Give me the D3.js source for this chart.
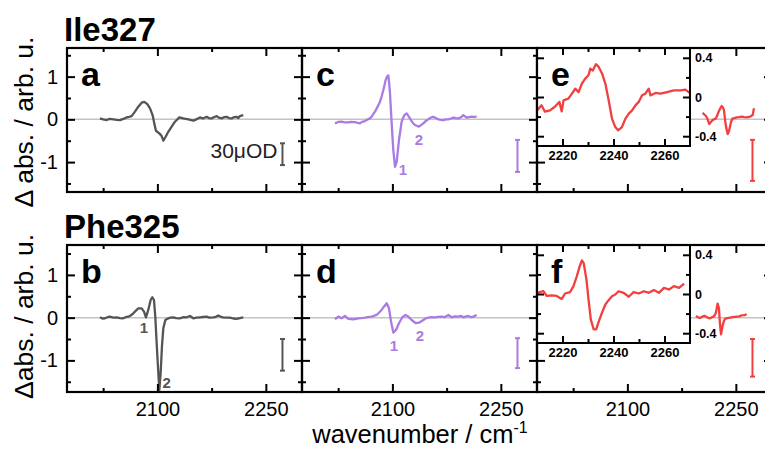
<!DOCTYPE html>
<html><head><meta charset="utf-8">
<script src="https://cdn.jsdelivr.net/npm/d3@7"></script>
<style>
body{margin:0;background:#fff}
svg{display:block}
text{font-family:"Liberation Sans",Arial,Helvetica,sans-serif}
</style>
</head><body>
<svg id="chart" width="765" height="452"></svg>
<script>
// ---------------- data ----------------
const xDomain = [1975, 2300];
const xMajorTicks = [2100, 2250];
const xMinorTicks = [2025, 2175];
const yMajorTicks = [-1, 0, 1];
const yMinorTicks = [-1.5, -0.5, 0.5, 1.5];
const insetXDomain = [2210, 2270];
const insetYDomain = [-0.5, 0.5];
const insetXMajor = [2220, 2240, 2260];
const insetXMinor = [2230, 2250];
const insetYMajor = [-0.4, 0, 0.4];
const insetYMinor = [-0.2, 0.2];
const rowTitles = ["Ile327", "Phe325"];
const rowYLabels = ["\u0394 abs. / arb. u.", "\u0394abs. / arb. u."];
const panelLetters = ["a", "c", "e", "b", "d", "f"];
const scaleBarWn = 2273;
const scaleBarTop = [-0.56, -0.48, -0.48, -0.50, -0.48, -0.50];
const scaleBarBottom = [-1.07, -1.23, -1.44, -1.24, -1.18, -1.38];
const scaleBarText = "30\u03bcOD";

const seriesA = [[2020.6,0.023],[2025,0.0],[2029.8,-0.016],[2034,0.01],[2039,0],[2043.5,-0.01],[2048.3,-0.016],[2053,0.01],[2057.5,0.046],[2061,0.06],[2064.4,0.077],[2069,0.18],[2073.6,0.296],[2078.2,0.39],[2081.9,0.41],[2086.1,0.358],[2089.8,0.257],[2093.4,0.1],[2095.7,-0.094],[2098,-0.266],[2102.7,-0.328],[2105.9,-0.39],[2108.2,-0.5],[2111.4,-0.406],[2115.1,-0.29],[2119.7,-0.17],[2124.3,-0.055],[2130.3,0.046],[2135.9,0.023],[2142.8,0],[2149.7,-0.03],[2154,0.0],[2158.9,0.046],[2163,0.02],[2168.1,0.06],[2171,0.03],[2175,0.023],[2178,0.05],[2182,0.077],[2185,0.04],[2188.9,0.023],[2192,0.05],[2195.8,0.06],[2199,0.03],[2202.7,0.023],[2206,0.05],[2209.6,0.06],[2212,0.03],[2214.2,0.077],[2218.8,0.1]];
const seriesB = [[2020.6,0.008],[2024,-0.02],[2027.5,-0.015],[2031,0.01],[2034.4,0.023],[2039,0.0],[2043.7,0.008],[2048,-0.01],[2052.9,-0.015],[2056,0.01],[2059.8,0.023],[2063,0.05],[2066.7,0.1],[2070,0.16],[2073.6,0.218],[2078.2,0.218],[2081.5,0.14],[2084.2,0.008],[2087.4,0.18],[2090.7,0.413],[2093,0.476],[2095.3,0.413],[2097.1,0.023],[2099,-0.6],[2100.8,-1.15],[2102.7,-1.69],[2104.5,-1.3],[2106.3,-0.68],[2108.2,-0.25],[2111,-0.056],[2115.1,-0.015],[2118,0],[2122,0.008],[2126,-0.01],[2131.2,-0.015],[2136,0.01],[2140.5,0.008],[2145,0.04],[2149.7,-0.015],[2154,0.0],[2158.9,0.008],[2163,0.015],[2168,0.023],[2172,0.0],[2177.3,0.008],[2181,0.02],[2184.2,0.05],[2188,0.02],[2191,0.008],[2195,0.0],[2200.4,0],[2205,-0.02],[2209.6,-0.03],[2214,-0.01],[2218.8,0.008]];
const seriesC = [[2020.6,-0.094],[2025,-0.06],[2029.8,-0.055],[2034,-0.07],[2039,-0.07],[2043,-0.06],[2048.3,-0.063],[2052,-0.08],[2055.2,-0.094],[2058,-0.06],[2062.1,-0.039],[2065,-0.01],[2069,0.023],[2072,0.08],[2075.9,0.18],[2079,0.28],[2082.9,0.414],[2085,0.53],[2087.5,0.687],[2090.7,0.92],[2092.5,1.0],[2094.4,1.03],[2095.5,0.85],[2096.7,0.61],[2099,-0.094],[2101.3,-0.72],[2103.6,-1.11],[2105.9,-1.0],[2109.1,-0.484],[2112.8,-0.055],[2116.5,0.1],[2119.7,0.14],[2124.3,0.023],[2128,-0.08],[2131.2,-0.133],[2136.8,-0.172],[2142.8,-0.094],[2146,-0.04],[2149.7,0],[2153,0.04],[2156.6,0.062],[2160,0.03],[2163.5,0],[2167,-0.01],[2170.5,-0.016],[2174,0.0],[2177.4,0],[2181,0.02],[2184.3,0.04],[2188,0.03],[2191.2,0.023],[2195,0.05],[2198.1,0.1],[2202.7,0.04],[2206,0.05],[2209.6,0.062],[2213,0.06],[2216.5,0.062]];
const seriesD = [[2020.6,-0.038],[2025.2,0.024],[2029.8,-0.015],[2034.4,0.04],[2039,-0.03],[2046,-0.038],[2052.9,-0.015],[2057,-0.01],[2062.1,0],[2066,0.01],[2071.3,0.024],[2078.2,0.063],[2085.1,0.18],[2088,0.25],[2092.1,0.336],[2095.3,0.22],[2098.1,-0.09],[2101.3,-0.35],[2105,-0.29],[2109.1,-0.13],[2113.7,0.008],[2118.3,0.063],[2122,0.024],[2126.6,-0.055],[2132.2,-0.13],[2136.8,-0.117],[2142.8,-0.055],[2146,-0.02],[2149.7,0],[2154,0.01],[2158.9,0.008],[2163,0.02],[2168.1,0.024],[2172,0.01],[2177.4,0.063],[2181.9,0.008],[2186,0.03],[2191.2,0.024],[2195,0.04],[2198.1,0.008],[2202,0.03],[2205,0.04],[2209,0.01],[2212,0.024],[2216.5,0.063]];
const seriesE = [[2204.1,0.156],[2206,0.12],[2208.7,0.078],[2211,0.0],[2213.3,-0.11],[2215.5,-0.06],[2217.9,-0.016],[2220,0.0],[2222.5,0.023],[2224.5,0.1],[2226.2,0.18],[2228.5,0.26],[2230.4,0.312],[2232,0.28],[2233.6,0.218],[2235,0.0],[2236.4,-0.17],[2238.7,-0.343],[2240.5,-0.28],[2241.9,-0.17],[2243.5,-0.05],[2245.6,0.023],[2248,0.03],[2251.2,0.047],[2254.5,0.05],[2258.1,0.062],[2261.5,0.05],[2265,0.047],[2269.6,0.062],[2273.3,0.1],[2275.1,0.258]];
const seriesF = [[2194.9,0.04],[2197.5,0.01],[2200.4,-0.008],[2204,0.03],[2207.3,0.04],[2211,0.0],[2214.2,-0.015],[2217,0.01],[2218.9,0.024],[2221,0.06],[2222.5,0.117],[2224.8,0.33],[2226.7,0.21],[2228,-0.14],[2229.5,-0.39],[2231.8,-0.18],[2233.5,-0.08],[2235,-0.03],[2238,-0.01],[2241.9,0],[2246,0.01],[2251.1,0.024],[2255,0.03],[2258,0.055],[2262,0.06],[2265,0.08]];
const insetE = [[2210.1,-0.136],[2211.8,-0.085],[2213.1,-0.15],[2215.1,-0.136],[2217,-0.10],[2218.8,-0.05],[2219.7,-0.147],[2220.4,-0.034],[2222.3,-0.017],[2223.7,0.034],[2225,0.085],[2226.3,0.05],[2227.6,0.137],[2228.9,0.188],[2230.2,0.222],[2230.9,0.29],[2231.9,0.27],[2233.1,0.335],[2234.2,0.307],[2235.5,0.24],[2236.8,0.137],[2238.1,-0.034],[2239.4,-0.22],[2240.7,-0.307],[2241.8,-0.34],[2243.3,-0.307],[2244.7,-0.22],[2246,-0.17],[2247.3,-0.136],[2248.6,-0.085],[2249.9,-0.05],[2251.2,0.017],[2252.5,0.034],[2253.8,0.085],[2254.5,0.017],[2256.5,0.041],[2258.4,0.034],[2261,0.05],[2263.7,0.068],[2266.3,0.068],[2268.2,0.075],[2270,0.04]];
const insetF = [[2210.1,0.012],[2212.5,0.03],[2213.8,-0.02],[2215.8,-0.015],[2217.7,-0.02],[2219.7,-0.05],[2221,0.005],[2223,0.02],[2224.3,0.08],[2225.6,0.18],[2226.7,0.28],[2227.6,0.343],[2228.3,0.316],[2229.4,0.147],[2230.2,-0.055],[2231.1,-0.259],[2232.2,-0.36],[2233.2,-0.36],[2234.1,-0.29],[2235.5,-0.19],[2236.8,-0.107],[2238.1,-0.063],[2239.4,-0.022],[2240.7,-0.005],[2242,0.028],[2244,0.012],[2246,-0.028],[2247.9,0.02],[2249.9,0.005],[2251.9,0.028],[2253.9,0.012],[2255.8,0.04],[2257.8,0.012],[2259.8,0.063],[2261.8,0.046],[2263.7,0.08],[2265.7,0.063],[2267.7,0.107]];
// peak annotations [panel, label, wavenumber, value]
const peakLabels = [["b","1",2081.5,-0.35],["b","2",2112.9,-1.64],["c","1",2114.7,-1.30],["c","2",2136.8,-0.61],["d","1",2102.2,-0.77],["d","2",2138.2,-0.54]];

// ---------------- layout ----------------
const colors = {gray:"#555555", purple:"#a97be3", red:"#f23f3f"};
const panelSeries = {a:seriesA, b:seriesB, c:seriesC, d:seriesD, e:seriesE, f:seriesF};
const panelColor = {a:colors.gray, b:colors.gray, c:colors.purple, d:colors.purple, e:colors.red, f:colors.red};
const insetSeries = {e:insetE, f:insetF};
const colLeft = [67, 302, 537];
const PW = 235;
const rows = [{top:48, bottom:192, yDomain:[-1.70,1.67]}, {top:245, bottom:392, yDomain:[-1.74,1.70]}];
const insetRight = 690, insetH = 98;

const svg = d3.select("#chart");
const fmt = d => d === 0 ? "0" : (Number.isInteger(d) ? String(d) : d.toFixed(1)).replace("\u2212","-");

function styleAxis(g){
  g.select(".domain").remove();
  g.selectAll(".tick line").attr("stroke","#000").attr("stroke-width",2);
}

panelLetters.forEach((L, i) => {
  const col = i % 3, row = Math.floor(i / 3);
  const R = rows[row];
  const left = colLeft[col];
  const x = d3.scaleLinear().domain(xDomain).range([left, left + PW]);
  const y = d3.scaleLinear().domain(R.yDomain).range([R.bottom, R.top]);
  const g = svg.append("g");
  const clipId = "clip" + L;
  svg.append("clipPath").attr("id", clipId).append("rect")
    .attr("x", left).attr("y", R.top).attr("width", PW).attr("height", R.bottom - R.top);

  // zero line
  g.append("line").attr("x1", x(xDomain[0])).attr("x2", x(xDomain[1]))
    .attr("y1", y(0)).attr("y2", y(0)).attr("stroke", "#c4c4c4").attr("stroke-width", 1.5);

  // data
  g.append("path").datum(panelSeries[L]).attr("clip-path", `url(#${clipId})`)
    .attr("fill","none").attr("stroke", panelColor[L]).attr("stroke-width", 2.3)
    .attr("stroke-linejoin","round")
    .attr("d", d3.line().x(d => x(d[0])).y(d => y(d[1])));

  // ticks (inward, all four sides)
  const bottomLabels = row === 1;
  g.append("g").attr("transform", `translate(0,${R.bottom})`)
    .call(d3.axisBottom(x).tickValues(xMajorTicks).tickSizeInner(-8).tickSizeOuter(0).tickPadding(10)
      .tickFormat(bottomLabels ? d3.format("d") : () => ""))
    .call(styleAxis)
    .call(a => a.selectAll("text").attr("font-size", 20).attr("fill","#000").attr("font-family", null));
  g.append("g").attr("transform", `translate(0,${R.bottom})`)
    .call(d3.axisBottom(x).tickValues(xMinorTicks).tickSizeInner(-4).tickSizeOuter(0).tickFormat(() => ""))
    .call(styleAxis);
  g.append("g").attr("transform", `translate(0,${R.top})`)
    .call(d3.axisTop(x).tickValues(xMajorTicks).tickSizeInner(-8).tickSizeOuter(0).tickFormat(() => ""))
    .call(styleAxis);
  g.append("g").attr("transform", `translate(0,${R.top})`)
    .call(d3.axisTop(x).tickValues(xMinorTicks).tickSizeInner(-4).tickSizeOuter(0).tickFormat(() => ""))
    .call(styleAxis);
  g.append("g").attr("transform", `translate(${left},0)`)
    .call(d3.axisLeft(y).tickValues(yMajorTicks).tickSizeInner(-8).tickSizeOuter(0).tickPadding(9)
      .tickFormat(col === 0 ? fmt : () => ""))
    .call(styleAxis)
    .call(a => a.selectAll("text").attr("font-size", 20).attr("fill","#000").attr("font-family", null));
  g.append("g").attr("transform", `translate(${left},0)`)
    .call(d3.axisLeft(y).tickValues(yMinorTicks).tickSizeInner(-4).tickSizeOuter(0).tickFormat(() => ""))
    .call(styleAxis);
  g.append("g").attr("transform", `translate(${left + PW},0)`)
    .call(d3.axisRight(y).tickValues(yMajorTicks).tickSizeInner(-8).tickSizeOuter(0).tickFormat(() => ""))
    .call(styleAxis);
  g.append("g").attr("transform", `translate(${left + PW},0)`)
    .call(d3.axisRight(y).tickValues(yMinorTicks).tickSizeInner(-4).tickSizeOuter(0).tickFormat(() => ""))
    .call(styleAxis);

  // scale bar
  const sb = g.append("g").attr("stroke", panelColor[L]).attr("stroke-width", 2);
  const bx = x(scaleBarWn);
  sb.append("line").attr("x1", bx).attr("x2", bx).attr("y1", y(scaleBarTop[i])).attr("y2", y(scaleBarBottom[i]));
  sb.append("line").attr("x1", bx - 2.5).attr("x2", bx + 2.5).attr("y1", y(scaleBarTop[i])).attr("y2", y(scaleBarTop[i]));
  sb.append("line").attr("x1", bx - 2.5).attr("x2", bx + 2.5).attr("y1", y(scaleBarBottom[i])).attr("y2", y(scaleBarBottom[i]));
  if (L === "a") {
    g.append("text").attr("x", bx - 5).attr("y", y(scaleBarTop[i]) + 15)
      .attr("text-anchor","end").attr("font-size", 21).attr("fill","#222").text(scaleBarText);
  }

  // peak labels
  peakLabels.filter(p => p[0] === L).forEach(p => {
    g.append("text").attr("x", x(p[2])).attr("y", y(p[3])).attr("text-anchor","middle")
      .attr("font-size", 15).attr("font-weight","bold").attr("fill", panelColor[L]).text(p[1]);
  });

  // inset
  if (insetSeries[L]) {
    const ix = d3.scaleLinear().domain(insetXDomain).range([left, insetRight]);
    const iy = d3.scaleLinear().domain(insetYDomain).range([R.top + insetH, R.top]);
    const ig = svg.append("g");
    const icid = "iclip" + L;
    svg.append("clipPath").attr("id", icid).append("rect")
      .attr("x", left).attr("y", R.top).attr("width", insetRight - left).attr("height", insetH);
    ig.append("rect").attr("x", left).attr("y", R.top).attr("width", insetRight - left).attr("height", insetH)
      .attr("fill", "#fff");
    ig.append("path").datum(insetSeries[L]).attr("clip-path", `url(#${icid})`)
      .attr("fill","none").attr("stroke", panelColor[L]).attr("stroke-width", 2.3)
      .attr("stroke-linejoin","round")
      .attr("d", d3.line().x(d => ix(d[0])).y(d => iy(d[1])));
    const ib = R.top + insetH;
    ig.append("g").attr("transform", `translate(0,${ib})`)
      .call(d3.axisBottom(ix).tickValues(insetXMajor).tickSizeInner(-7).tickSizeOuter(0).tickPadding(5).tickFormat(d3.format("d")))
      .call(styleAxis)
      .call(a => a.selectAll("text").attr("font-size", 13).attr("font-weight","bold").attr("fill","#000").attr("font-family", null));
    ig.append("g").attr("transform", `translate(0,${ib})`)
      .call(d3.axisBottom(ix).tickValues(insetXMinor).tickSizeInner(-4).tickSizeOuter(0).tickFormat(() => ""))
      .call(styleAxis);
    ig.append("g").attr("transform", `translate(0,${R.top})`)
      .call(d3.axisTop(ix).tickValues(insetXMajor).tickSizeInner(-7).tickSizeOuter(0).tickFormat(() => ""))
      .call(styleAxis);
    ig.append("g").attr("transform", `translate(0,${R.top})`)
      .call(d3.axisTop(ix).tickValues(insetXMinor).tickSizeInner(-4).tickSizeOuter(0).tickFormat(() => ""))
      .call(styleAxis);
    ig.append("g").attr("transform", `translate(${insetRight},0)`)
      .call(d3.axisRight(iy).tickValues(insetYMajor).tickSizeInner(-7).tickSizeOuter(0).tickPadding(5).tickFormat(fmt))
      .call(styleAxis)
      .call(a => a.selectAll("text").attr("font-size", 12.5).attr("font-weight","bold").attr("fill","#000").attr("font-family", null));
    ig.append("g").attr("transform", `translate(${insetRight},0)`)
      .call(d3.axisRight(iy).tickValues(insetYMinor).tickSizeInner(-4).tickSizeOuter(0).tickFormat(() => ""))
      .call(styleAxis);
    ig.append("g").attr("transform", `translate(${left},0)`)
      .call(d3.axisLeft(iy).tickValues(insetYMajor).tickSizeInner(-7).tickSizeOuter(0).tickFormat(() => ""))
      .call(styleAxis);
    ig.append("g").attr("transform", `translate(${left},0)`)
      .call(d3.axisLeft(iy).tickValues(insetYMinor).tickSizeInner(-4).tickSizeOuter(0).tickFormat(() => ""))
      .call(styleAxis);
    ig.append("rect").attr("x", left).attr("y", R.top).attr("width", insetRight - left).attr("height", insetH)
      .attr("fill","none").attr("stroke","#000").attr("stroke-width", 2);
  }

  // frame
  svg.append("rect").attr("x", left).attr("y", R.top).attr("width", PW).attr("height", R.bottom - R.top)
    .attr("fill","none").attr("stroke","#000").attr("stroke-width", 2.2);

  // panel letter (drawn last so it sits above inset)
  svg.append("text").attr("x", left + 14).attr("y", R.top + 37.5)
    .attr("font-size", 34).attr("font-weight","bold").attr("fill","#000").text(L);
});

// row titles and y labels
rows.forEach((R, r) => {
  svg.append("text").attr("x", 64).attr("y", R.top - 7)
    .attr("font-size", 33).attr("font-weight","bold").attr("fill","#000").text(rowTitles[r]);
  const cy = (R.top + R.bottom) / 2 + (r === 0 ? 2 : -2);
  svg.append("text").attr("transform", `translate(33,${cy}) rotate(-90)`)
    .attr("text-anchor","middle").attr("font-size", 26.5).attr("fill","#000").text(rowYLabels[r]);
});

// x axis title
const xt = svg.append("text").attr("x", 420).attr("y", 443).attr("text-anchor","middle")
  .attr("font-size", 25.5).attr("fill","#000");
xt.append("tspan").text("wavenumber / cm");
xt.append("tspan").attr("dy", -10).attr("font-size", 16).text("-1");
</script>
</body></html>
